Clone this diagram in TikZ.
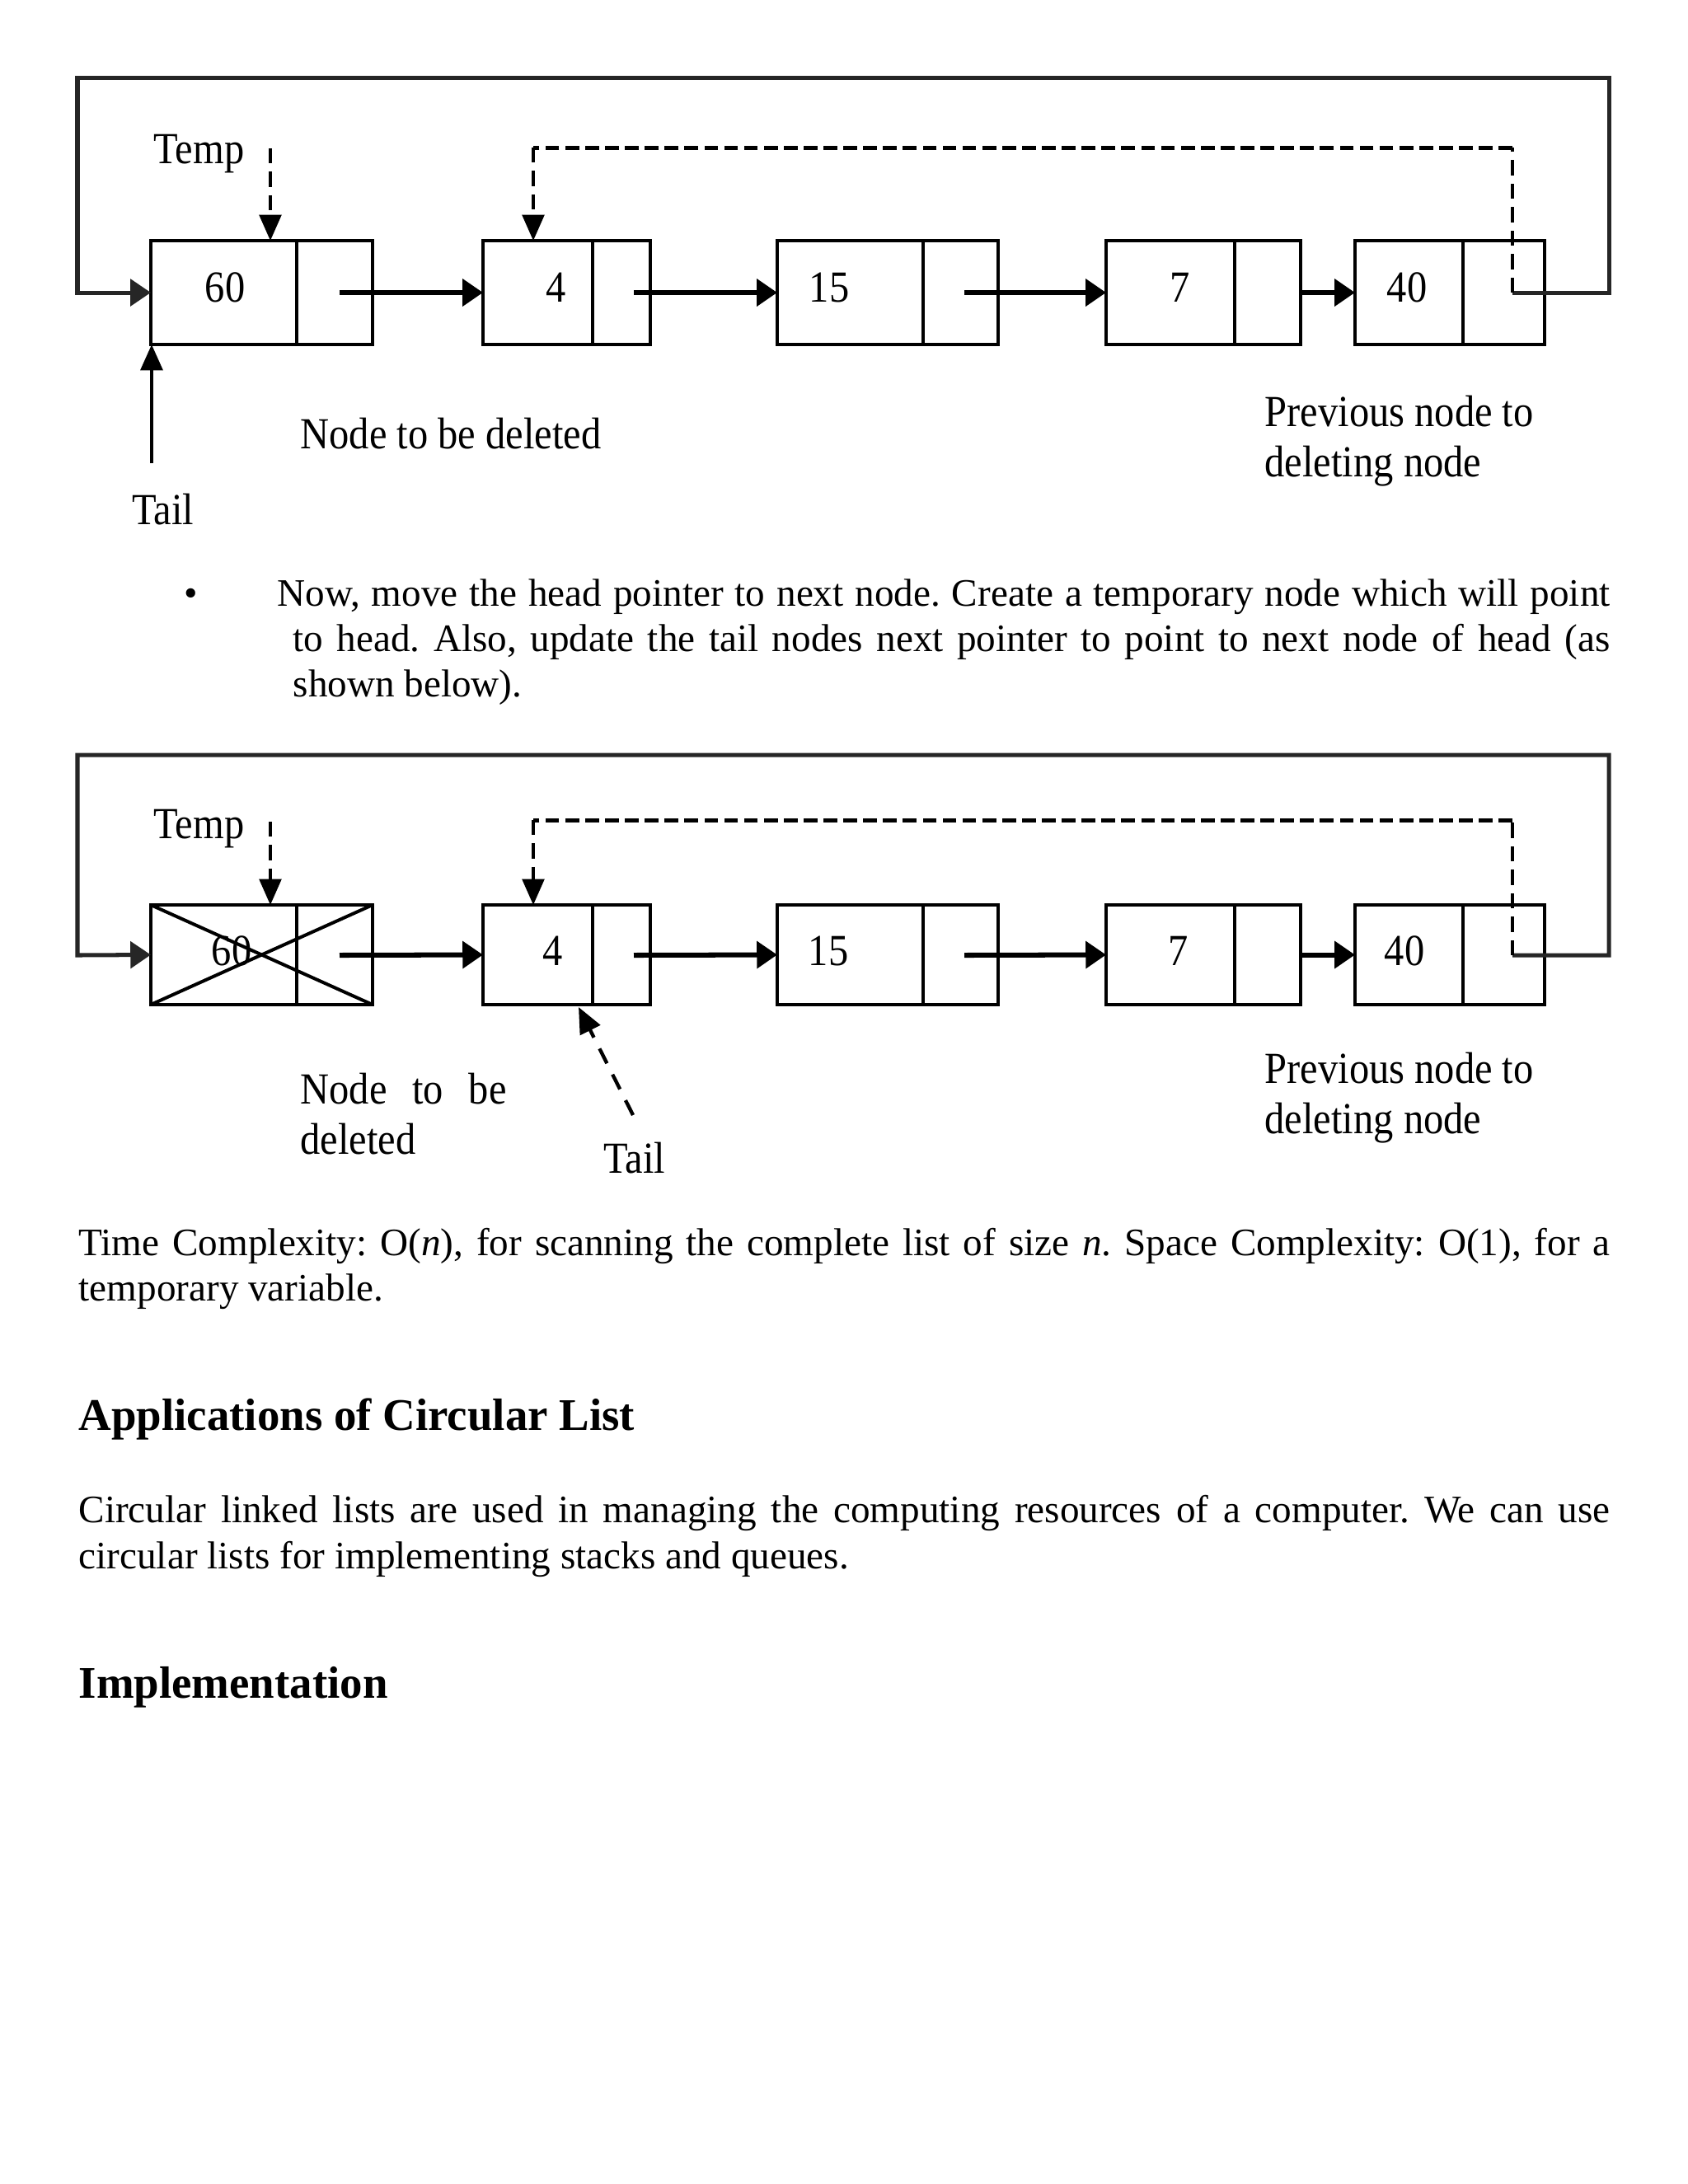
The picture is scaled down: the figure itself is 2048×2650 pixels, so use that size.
\documentclass[tikz,border=0pt]{standalone}
\usepackage{fontspec}
\setmainfont{Liberation Serif}
\newfontfamily\lblfont[FakeStretch=0.9]{Liberation Serif}
\usetikzlibrary{arrows.meta}
\newlength\px
\setlength\px{0.29883pt}
\frenchspacing
\begin{document}
\frenchspacing
\begin{tikzpicture}[x=0.29883pt,y=-0.29883pt,
  cell/.style={draw,line width=1.35pt,inner sep=0,outer sep=0,anchor=north west},
  num/.style={inner sep=0,anchor=base,font={\lblfont\fontsize{16.1}{18}\selectfont}},
  lbl/.style={inner sep=0,anchor=base west,font={\lblfont\fontsize{16.1}{18}\selectfont}},
  body/.style={inner sep=0,anchor=base west,font={\fontsize{14.1}{16}\selectfont}},
  head/.style={inner sep=0,anchor=base west,font={\bfseries\fontsize{16.4}{19}\selectfont}},
  link/.style={line width=1.8pt,-{Triangle[length=7.4pt,width=9.6pt]}},
  ring/.style={line width=1.5pt,draw=black!85,-{Triangle[length=7.4pt,width=9.6pt]}},
  hdash/.style={line width=1.5pt,dash pattern=on 5pt off 2.2pt},
  vdash/.style={line width=1pt,dash pattern=on 5.5pt off 3pt},
  vtip/.style={-{Triangle[length=9.4pt,width=8pt]}},
  tdash/.style={line width=1.3pt,dash pattern=on 6pt off 4.5pt},
]
\useasboundingbox (0,0) rectangle (2048,2650);
\fill[white] (0,0) rectangle (2048,2650);

% ================= first diagram =================
\node[cell,minimum width=177\px,minimum height=126\px] (a60) at (183,292) {};
\node[cell,minimum width=92\px,minimum height=126\px]  (b60) at (360,292) {};
\node[cell,minimum width=133\px,minimum height=126\px] (a4)  at (586,292) {};
\node[cell,minimum width=70\px,minimum height=126\px]  (b4)  at (719,292) {};
\node[cell,minimum width=177\px,minimum height=126\px] (a15) at (943,292) {};
\node[cell,minimum width=91\px,minimum height=126\px]  (b15) at (1120,292) {};
\node[cell,minimum width=156\px,minimum height=126\px] (a7)  at (1342,292) {};
\node[cell,minimum width=80\px,minimum height=126\px]  (b7)  at (1498,292) {};
\node[cell,minimum width=131\px,minimum height=126\px] (a40) at (1644,292) {};
\node[cell,minimum width=99\px,minimum height=126\px]  (b40) at (1775,292) {};

\node[num] (n60) at (273,366) {60};
\node[num] (n4)  at (675,366) {4};
\node[num] (n15) at (1006,366) {15};
\node[num] (n7)  at (1432,366) {7};
\node[num] (n40) at (1707,366) {40};

\coordinate (s60) at (412,355);
\coordinate (s4)  at (769,355);
\coordinate (s15) at (1170,355);
\coordinate (k40) at (1835,355);
\coordinate (t40) at (1835,179);
\coordinate (t4)  at (647,179);
\coordinate (tp)  at (328,180);
\coordinate (tl)  at (184,562);

\draw[link] (s60) -- (a4.west);
\draw[link] (s4) -- (a15.west);
\draw[link] (s15) -- (a7.west);
\draw[link] (b7.east) -- (a40.west);
\draw[ring] (k40) -- (1952,355) -- (1952,94) -- (94,94) -- (94,355) -- (a60.west);
\draw[vdash] (k40) -- (t40);
\draw[hdash] (t40) -- (t4);
\draw[vdash,vtip] (t4) -- (t4 |- a4.north);
\draw[vdash,vtip] (tp) -- (tp |- a60.north);
\draw[line width=1.3pt,vtip] (tl) -- (tl |- a60.south);

\node[lbl] (temp1) at (186,198) {Temp};
\node[lbl] (del1) at (364,544) {Node to be deleted};
\node[lbl] (prev1a) at (1534,517) {Previous node to};
\node[lbl] (prev1b) at (1534,578) {deleting node};
\node[lbl] (tail1) at (160,636) {Tail};

% ================= text =================
\node[body,anchor=base] (bul) at (232,735) {\textbullet};
\node[body] (p1) at (336,735) {\makebox[1617\px][s]{Now, move the head pointer to next node. Create a temporary node which will point}};
\node[body] (p2) at (355,790) {\makebox[1598\px][s]{to head. Also, update the tail nodes next pointer to point to next node of head (as}};
\node[body] (p3) at (355,845) {shown below).};

% ================= second diagram =================
\node[cell,minimum width=177\px,minimum height=121\px] (c60) at (183,1098) {};
\node[cell,minimum width=92\px,minimum height=121\px]  (d60) at (360,1098) {};
\node[cell,minimum width=133\px,minimum height=121\px] (c4)  at (586,1098) {};
\node[cell,minimum width=70\px,minimum height=121\px]  (d4)  at (719,1098) {};
\node[cell,minimum width=177\px,minimum height=121\px] (c15) at (943,1098) {};
\node[cell,minimum width=91\px,minimum height=121\px]  (d15) at (1120,1098) {};
\node[cell,minimum width=156\px,minimum height=121\px] (c7)  at (1342,1098) {};
\node[cell,minimum width=80\px,minimum height=121\px]  (d7)  at (1498,1098) {};
\node[cell,minimum width=131\px,minimum height=121\px] (c40) at (1644,1098) {};
\node[cell,minimum width=99\px,minimum height=121\px]  (d40) at (1775,1098) {};

\draw[line width=1.2pt] (c60.north west) -- (d60.south east);
\draw[line width=1.2pt] (c60.south west) -- (d60.north east);

\node[num] (m60) at (281,1171) {60};
\node[num] (m4)  at (671,1171) {4};
\node[num] (m15) at (1005,1171) {15};
\node[num] (m7)  at (1430,1171) {7};
\node[num] (m40) at (1704,1171) {40};

\coordinate (u60) at (412,1159);
\coordinate (u4)  at (769,1159);
\coordinate (u15) at (1170,1159);
\coordinate (q40) at (1835,1159);
\coordinate (r40) at (1835,995);
\coordinate (r4)  at (647,995);
\coordinate (tq)  at (328,997);
\coordinate (tl2) at (768,1353);
\coordinate (tt)  at (702,1222);

\draw[link] (u60) -- (c4.west);
\draw[link] (u4) -- (c15.west);
\draw[link] (u15) -- (c7.west);
\draw[link] (d7.east) -- (c40.west);
\draw[ring] (q40) -- (1952,1159) -- (1952,916) -- (94,916) -- (94,1159) -- (c60.west);
\draw[vdash] (q40) -- (r40);
\draw[hdash] (r40) -- (r4);
\draw[vdash,vtip] (r4) -- (r4 |- c4.north);
\draw[vdash,vtip] (tq) -- (tq |- c60.north);
\draw[tdash,vtip] (tl2) -- (tt);

\node[lbl] (temp2) at (186,1017) {Temp};
\node[lbl] (del2a) at (364,1339) {\makebox[250\px][s]{Node to be}};
\node[lbl] (del2b) at (364,1400) {deleted};
\node[lbl] (tail2) at (732,1423) {Tail};
\node[lbl] (prev2a) at (1534,1314) {Previous node to};
\node[lbl] (prev2b) at (1534,1375) {deleting node};

% ================= text below =================
\node[body] (tc1) at (95,1523) {\makebox[1858\px][s]{Time Complexity: O(\textit{n}), for scanning the complete list of size \textit{n}. Space Complexity: O(1), for a}};
\node[body] (tc2) at (95,1578) {temporary variable.};
\node[head] (h1) at (95,1735) {Applications of Circular List};
\node[body] (ap1) at (95,1847) {\makebox[1858\px][s]{Circular linked lists are used in managing the computing resources of a computer. We can use}};
\node[body] (ap2) at (95,1903) {circular lists for implementing stacks and queues.};
\node[head] (h2) at (95,2060) {Implementation};
\end{tikzpicture}
\end{document}
